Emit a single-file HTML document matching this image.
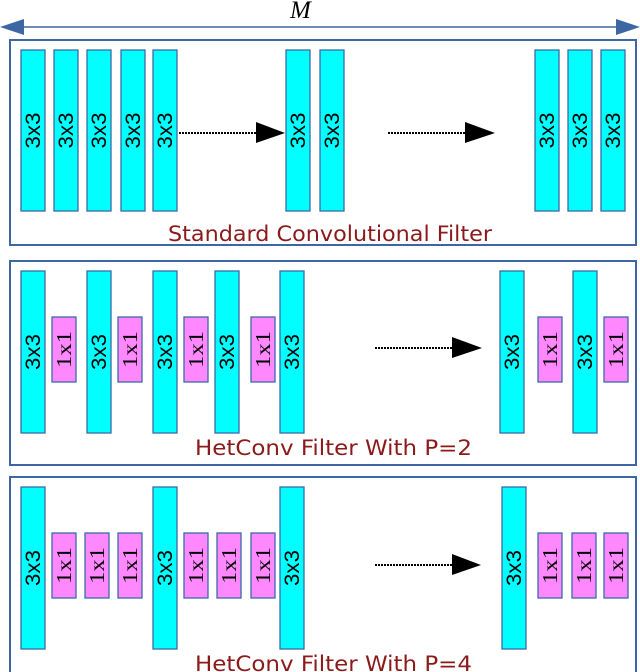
<!DOCTYPE html>
<html><head><meta charset="utf-8"><style>
html,body{margin:0;padding:0;background:#fff;width:640px;height:672px;overflow:hidden}
svg{display:block}
.c{fill:#00ffff;stroke:#3a6aa8;stroke-width:1.3}
.p{fill:#ff88ff;stroke:#3a6aa8;stroke-width:1.3}
.b{fill:none;stroke:#3d67a3;stroke-width:2}
.cap{font-family:"DejaVu Sans","Liberation Sans",sans-serif;font-size:21px;fill:#8b1a1a}
</style></head><body>
<svg width="640" height="672" viewBox="0 0 640 672" xmlns="http://www.w3.org/2000/svg">
<defs>
<g id="c3"><rect class="c" x="0" y="0" width="24" height="162"/><text style="font-family:'Liberation Sans',sans-serif;font-size:21px" font-size="21" fill="#000" transform="translate(19,81) rotate(-90)" text-anchor="middle" textLength="36" lengthAdjust="spacingAndGlyphs">3x3</text></g>
<g id="c3b"><rect class="c" x="0" y="0" width="24" height="161"/><text style="font-family:'Liberation Sans',sans-serif;font-size:21px" font-size="21" fill="#000" transform="translate(19,80.5) rotate(-90)" text-anchor="middle" textLength="36" lengthAdjust="spacingAndGlyphs">3x3</text></g>
<g id="p1"><rect class="p" x="0" y="0" width="24" height="65"/><text style="font-family:'Liberation Serif',serif;font-size:21px" font-size="21" fill="#000" transform="translate(19,32.5) rotate(-90)" text-anchor="middle" textLength="37" lengthAdjust="spacingAndGlyphs">1x1</text></g>
</defs>
<line x1="14" y1="27" x2="624" y2="27" stroke="#3d67a3" stroke-width="1.5"/>
<polygon points="0,27 24,19 24,35" fill="#3d67a3"/>
<polygon points="640,27 616,19 616,35" fill="#3d67a3"/>
<text style="font-family:'Liberation Serif',serif;font-style:italic;font-size:25px" font-size="25" x="290" y="18">M</text>

<rect class="b" x="10" y="40" width="626" height="205"/>
<use href="#c3b" x="21" y="50"/><use href="#c3b" x="54" y="50"/><use href="#c3b" x="87" y="50"/><use href="#c3b" x="121" y="50"/><use href="#c3b" x="153" y="50"/>
<use href="#c3b" x="286" y="50"/><use href="#c3b" x="320" y="50"/>
<use href="#c3b" x="535" y="50"/><use href="#c3b" x="568" y="50"/><use href="#c3b" x="601" y="50"/>
<line x1="179" y1="133" x2="260" y2="133" stroke="#000" stroke-width="2" stroke-dasharray="2,1"/>
<polygon points="256,122 285,133 256,143" fill="#000"/>
<line x1="388" y1="133" x2="468" y2="133" stroke="#000" stroke-width="2" stroke-dasharray="2,1"/>
<polygon points="465,122 495,133 465,143" fill="#000"/>
<text class="cap" x="168" y="241" textLength="324" lengthAdjust="spacingAndGlyphs">Standard Convolutional Filter</text>

<rect class="b" x="10" y="261" width="626" height="204"/>
<use href="#c3" x="21" y="271"/><use href="#c3" x="87" y="271"/><use href="#c3" x="153" y="271"/><use href="#c3" x="215" y="271"/><use href="#c3" x="280" y="271"/>
<use href="#p1" x="52" y="317"/><use href="#p1" x="118" y="317"/><use href="#p1" x="184" y="317"/><use href="#p1" x="251" y="317"/>
<use href="#c3" x="500" y="271"/><use href="#c3" x="573" y="271"/>
<use href="#p1" x="538" y="317"/><use href="#p1" x="604" y="317"/>
<line x1="375" y1="348" x2="455" y2="348" stroke="#000" stroke-width="2" stroke-dasharray="2,1"/>
<polygon points="452,337 482,348 452,358" fill="#000"/>
<text class="cap" x="195" y="455" textLength="277" lengthAdjust="spacingAndGlyphs">HetConv Filter  With P=2</text>

<rect class="b" x="10" y="477" width="626" height="210"/>
<use href="#c3" x="21" y="487"/><use href="#c3" x="153" y="487"/><use href="#c3" x="280" y="487"/>
<use href="#p1" x="52" y="533"/><use href="#p1" x="85" y="533"/><use href="#p1" x="118" y="533"/>
<use href="#p1" x="184" y="533"/><use href="#p1" x="217" y="533"/><use href="#p1" x="251" y="533"/>
<use href="#c3" x="502" y="487"/>
<use href="#p1" x="538" y="533"/><use href="#p1" x="572" y="533"/><use href="#p1" x="604" y="533"/>
<line x1="375" y1="565" x2="455" y2="565" stroke="#000" stroke-width="2" stroke-dasharray="2,1"/>
<polygon points="452,554 481,565 452,575" fill="#000"/>
<text class="cap" x="195" y="671" textLength="277" lengthAdjust="spacingAndGlyphs">HetConv Filter  With P=4</text>
</svg>
</body></html>
